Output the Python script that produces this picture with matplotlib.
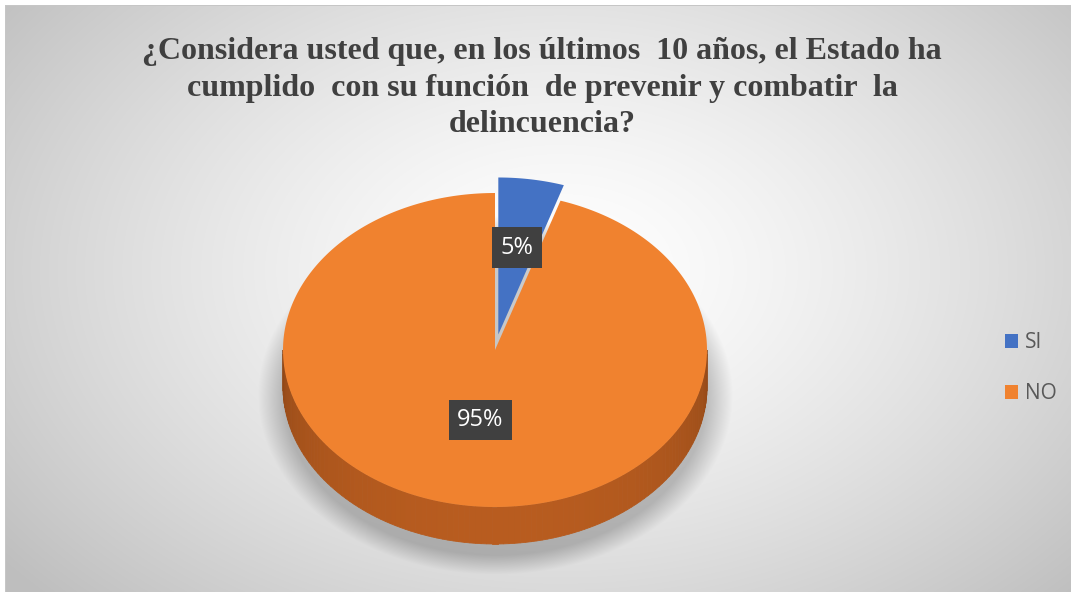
import numpy as np
import matplotlib.pyplot as plt
from matplotlib.patches import Polygon, Patch
from matplotlib.colors import to_rgb

# datos
labels = ['SI', 'NO']
values = [5, 95]
pct_labels = ['5%', '95%']
colors = ['#4472C4', '#F0822F']
title_lines = ['¿Considera usted que, en los últimos  10 años, el Estado ha',
               'cumplido  con su función  de prevenir y combatir  la',
               'delincuencia?']

W, H = 1071, 592
fig = plt.figure(figsize=(W / 100, H / 100), dpi=100)
ax = fig.add_axes([0, 0, 1, 1])

# geometria del pie (pixeles)
cx, cy, rx, ry, depth = 495, 350, 212, 157, 37

# fondo con degradado radial + sombra
yy, xx = np.mgrid[0:H, 0:W]
r = np.sqrt(((xx - 560) / 640) ** 2 + ((yy - 270) / 430) ** 2)
bg = 1 - 0.22 * np.clip(r, 0, 1.1) ** 1.4
rs = np.sqrt(((xx - cx) / (rx + 4)) ** 2 + ((yy - (cy + depth + 8)) / (ry + 6)) ** 2)
shadow = 0.2 * np.clip((1.1 - rs) / 0.12, 0, 1)
bg = bg - shadow
bg[:5, :] = 1.0
bg[:, :5] = 1.0
bg[5, 5:] = 0.78
bg[5:, 5] = 0.78
img = np.dstack([bg, bg, bg])
ax.imshow(img, extent=(0, W, H, 0), zorder=0, interpolation='bilinear')
ax.set_xlim(0, W)
ax.set_ylim(H, 0)
ax.axis('off')


def pt(t, x0, y0, dy=0):
    return x0 + rx * np.sin(t), y0 - ry * np.cos(t) + dy


fr = np.array(values) / np.sum(values)
starts = np.concatenate([[0], np.cumsum(fr)[:-1]]) * 2 * np.pi
ends = np.cumsum(fr) * 2 * np.pi
explode = [0.1, 0.0]
label_r = [0.56, 0.45]

# lados (solo la parte frontal visible)
side_dark = np.array(to_rgb('#8e4616'))
side_mid = np.array(to_rgb('#b85c1f'))
for i in range(len(values)):
    mid = (starts[i] + ends[i]) / 2
    ox = explode[i] * rx * np.sin(mid)
    oy = -explode[i] * ry * np.cos(mid)
    a0 = max(starts[i], np.pi / 2)
    a1 = min(ends[i], 3 * np.pi / 2)
    if a1 <= a0:
        continue
    ts = np.linspace(a0, a1, 120)
    base = np.array(to_rgb(colors[i]))
    for k in range(len(ts) - 1):
        t0, t1 = ts[k], ts[k + 1]
        w = abs(np.sin(((t0 + t1) / 2 - np.pi / 2)))
        c = side_dark + (side_mid - side_dark) * w ** 0.6
        if i == 0:
            c = base * 0.6
        p = [pt(t0, cx + ox, cy + oy), pt(t1, cx + ox, cy + oy),
             pt(t1, cx + ox, cy + oy, depth), pt(t0, cx + ox, cy + oy, depth)]
        ax.add_patch(Polygon(p, closed=True, fc=c, ec=c, lw=0.6, zorder=2))

# caras superiores
order = [1, 0]
for i in order:
    mid = (starts[i] + ends[i]) / 2
    ox = explode[i] * rx * np.sin(mid)
    oy = -explode[i] * ry * np.cos(mid)
    ts = np.linspace(starts[i], ends[i], 300)
    xs, ys = pt(ts, cx + ox, cy + oy)
    p = np.column_stack([np.r_[cx + ox, xs], np.r_[cy + oy, ys]])
    ax.add_patch(Polygon(p, closed=True, fc=colors[i], ec='none', zorder=3 + (i == 0)))
    lx = cx + ox + label_r[i] * rx * np.sin(mid)
    ly = cy + oy - label_r[i] * ry * np.cos(mid)
    ax.text(lx, ly, pct_labels[i], ha='center', va='center', color='white',
            fontsize=17, family='Open Sans', zorder=6,
            bbox=dict(boxstyle='square,pad=0.35', fc='#404040', ec='none'))

# titulo
for line, yb in zip(title_lines, [59, 96, 132]):
    ax.text(542, yb, line, ha='center', va='baseline', fontsize=23,
            family='Liberation Serif', weight='bold', color='#404040', zorder=6)

# leyenda
handles = [Patch(fc=c, ec='none') for c in colors]
leg = ax.legend(handles, labels, loc='center left', bbox_to_anchor=(986 / W, 1 - 368 / H),
                frameon=False, handlelength=0.65, handleheight=0.65, handletextpad=0.3,
                labelspacing=1.45, prop={'family': 'Open Sans', 'size': 15})
for t in leg.get_texts():
    t.set_color('#595959')

fig.savefig('out.png', dpi=100)
